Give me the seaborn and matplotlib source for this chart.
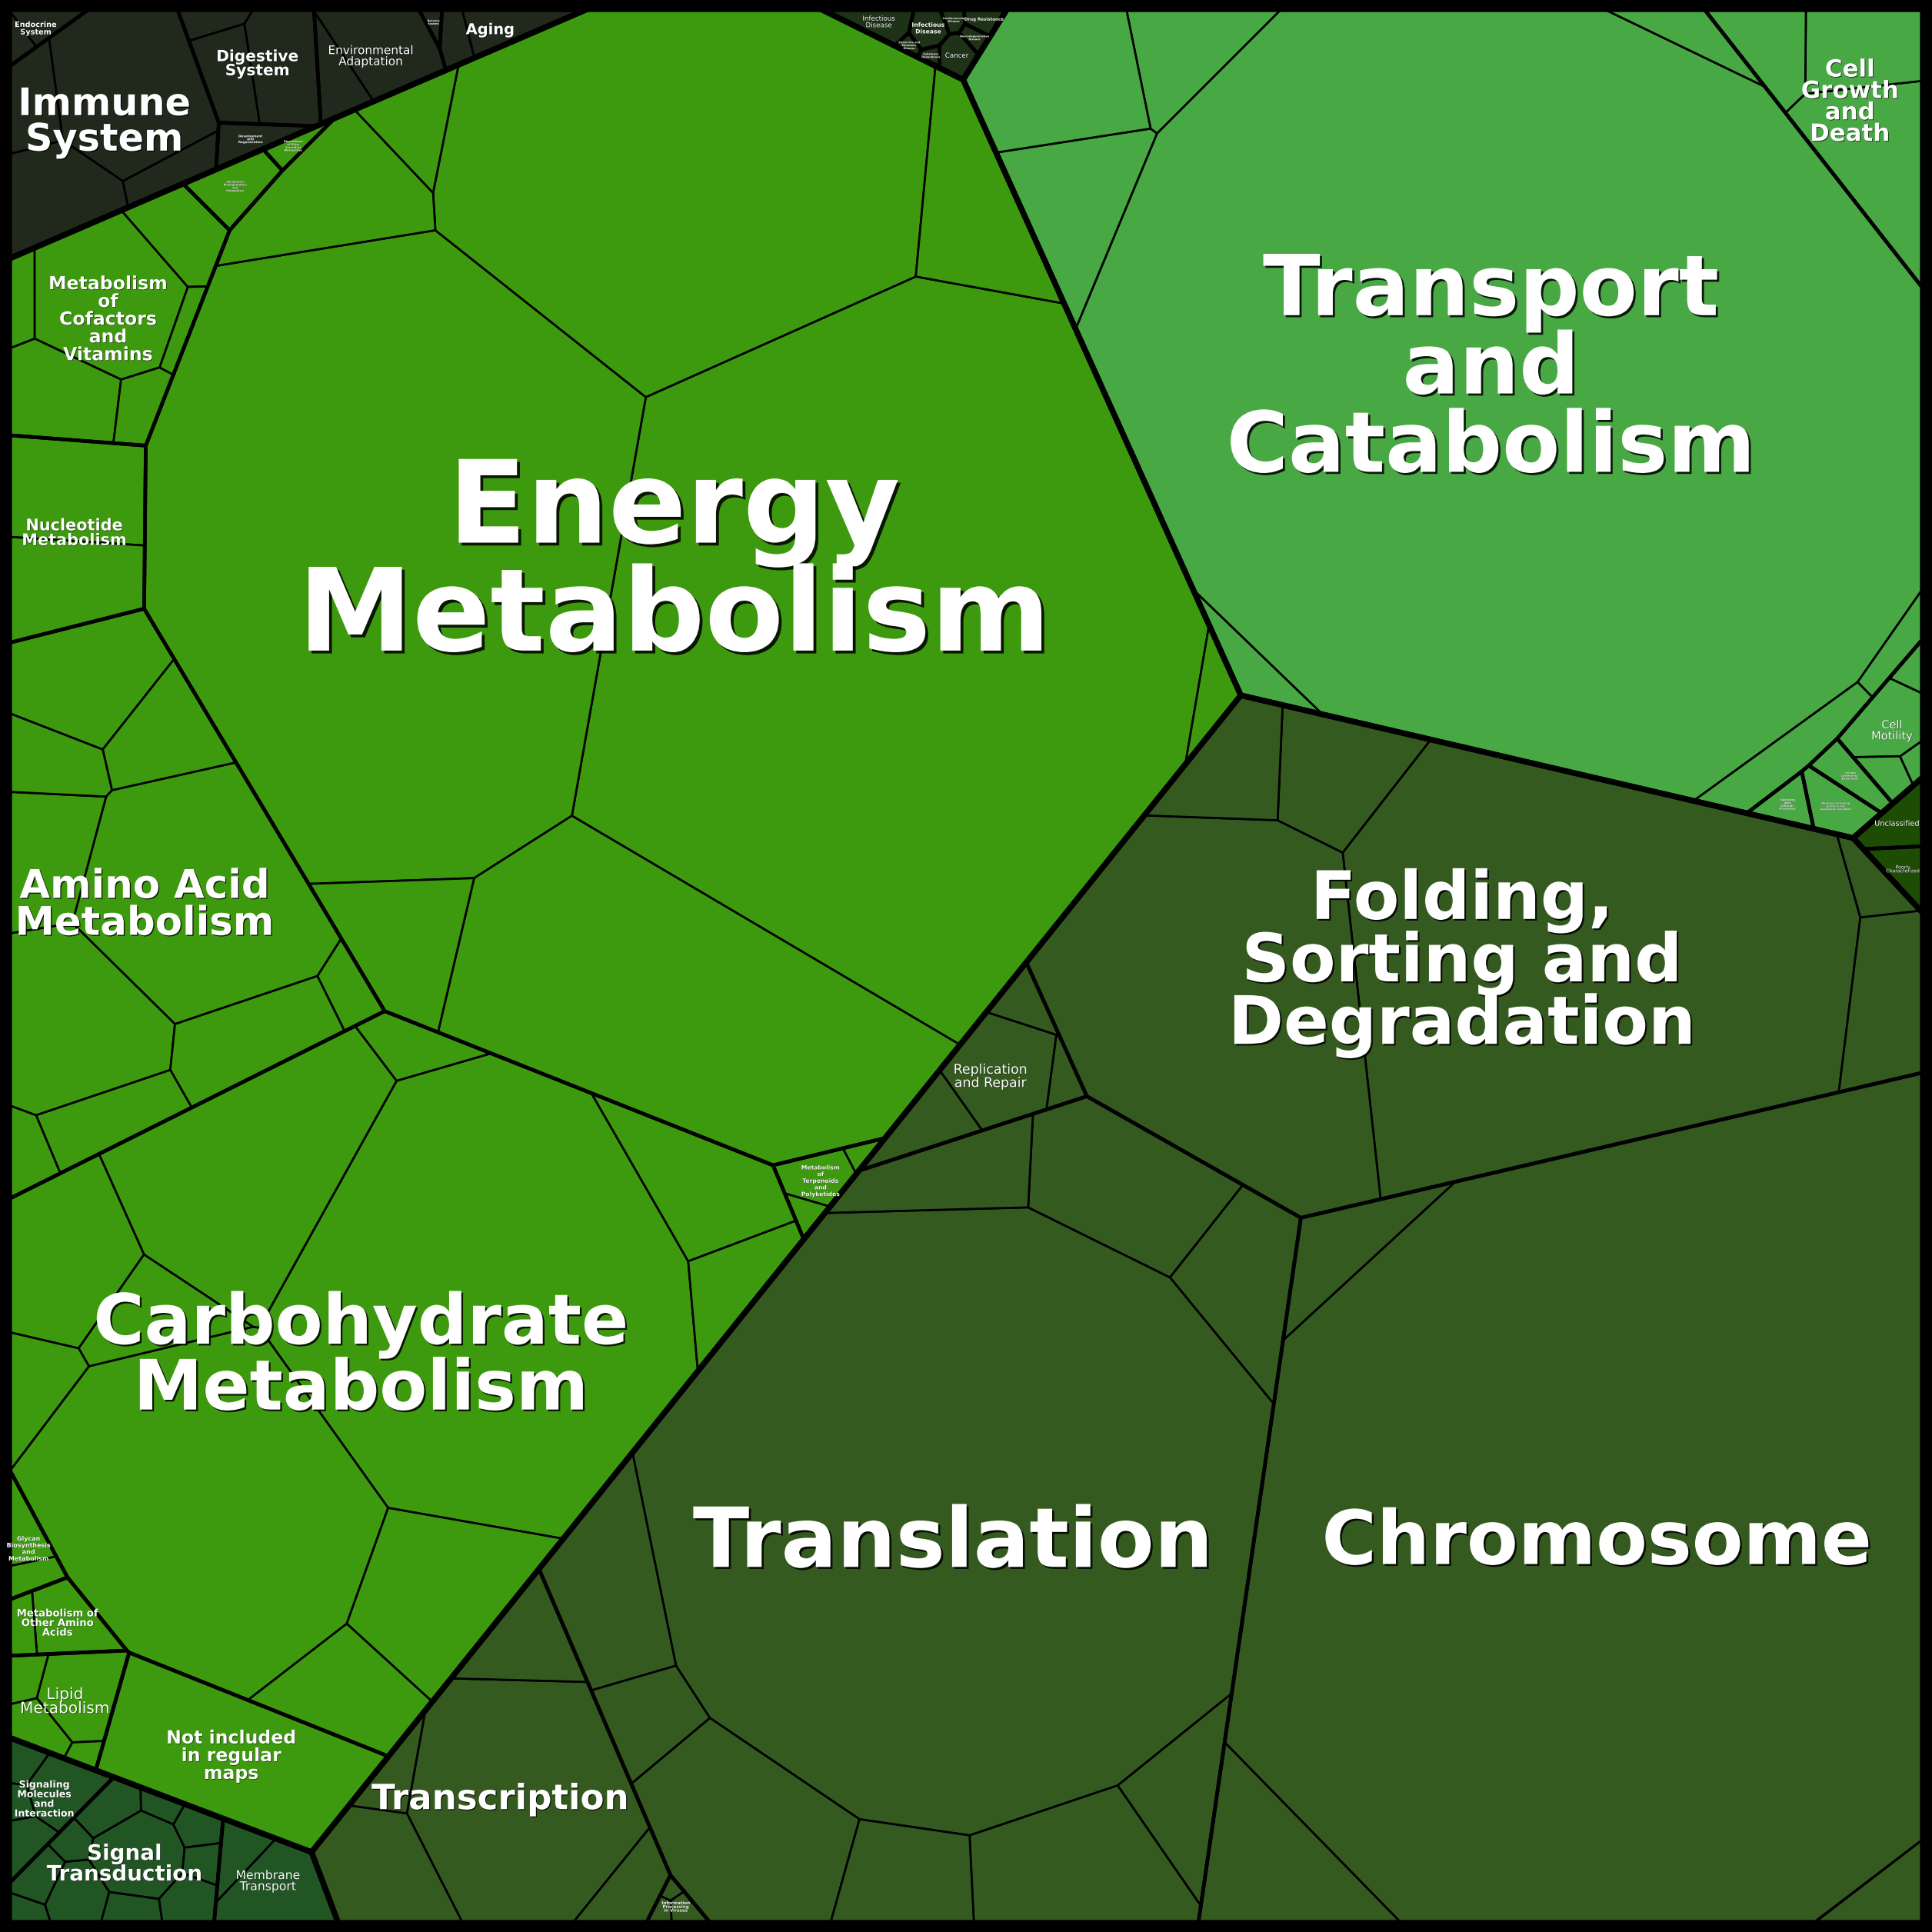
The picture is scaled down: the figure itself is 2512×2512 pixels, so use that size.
import numpy as np
import matplotlib
matplotlib.use("Agg")
import matplotlib.pyplot as plt
import matplotlib.patheffects as pe
from matplotlib.patches import Polygon
from matplotlib.path import Path
import seaborn as sns

# top level groups
groups = ["Metabolism", "Genetic Information Processing", "Cellular Processes",
          "Environmental Information Processing", "Organismal Systems",
          "Human Diseases", "Unclassified"]
group_colors = ["#3d9a0e", "#355a20", "#48a844", "#215624", "#20291c", "#1d3216", "#1d4c04"]

# level 2 categories (label text), their group and the sizes of the pathways inside
cat_labels = [
    "Energy\nMetabolism", "Carbohydrate\nMetabolism", "Amino Acid\nMetabolism",
    "Metabolism\nof\nCofactors\nand\nVitamins", "Nucleotide\nMetabolism",
    "Not included\nin regular\nmaps", "Lipid\nMetabolism", "Metabolism of\nOther Amino\nAcids",
    "Glycan\nBiosynthesis\nand\nMetabolism", "Metabolism\nof\nTerpenoids\nand\nPolyketides",
    "Xenobiotics\nBiodegradation\nand\nMetabolism", "Biosynthesis\nof Other\nSecondary\nMetabolites",
    "Translation", "Chromosome", "Folding,\nSorting and\nDegradation", "Transcription",
    "Replication\nand Repair", "Information\nProcessing\nin Viruses",
    "Transport\nand\nCatabolism", "Cell\nGrowth\nand\nDeath", "Cell\nMotility",
    "Cellular\nCommunity -\nEukaryotes", "Domain-containing\nproteins not\nelsewhere classified",
    "Signaling\nand\nCellular\nProcesses",
    "Signal\nTransduction", "Membrane\nTransport", "Signaling\nMolecules\nand\nInteraction",
    "Immune\nSystem", "Digestive\nSystem", "Environmental\nAdaptation", "Aging",
    "Endocrine\nSystem", "Development\nand\nRegeneration", "Nervous\nSystem",
    "Infectious\nDisease", "Infectious\nDisease", "Cancer", "Drug Resistance",
    "Cardiovascular\nDisease", "Neurodegenerative\nDisease", "Endocrine and\nMetabolic\nDisease",
    "Substance\nDependence",
    "Unclassified", "Poorly\nCharacterized",
]
cat_group = [0] * 12 + [1] * 6 + [2] * 6 + [3] * 3 + [4] * 7 + [5] * 8 + [6] * 2
cat_parts = [
    [220, 164, 96, 66, 12, 12, 10, 4, 2], [95, 60, 30, 15, 12, 10, 8, 6, 5, 4, 3],
    [30, 15, 10, 8, 7, 6, 5, 4, 2, 2], [12, 6, 4, 2, 1.5, 1], [9, 7.5], [20],
    [4, 1.5, 1, 0.5], [3, 1], [1.5, 1], [2, 0.6, 0.4], [2.5], [0.7],
    [200, 20, 15, 15, 12, 10, 8, 8, 7, 5], [320, 12, 6, 3], [115, 65, 9, 8, 7, 2],
    [30, 8, 5, 3, 2], [6, 3, 1.5, 1], [0.5, 0.3, 0.2],
    [340, 12, 8, 5, 4, 3, 3, 2, 2], [10, 6, 4], [3, 1, 0.6, 0.4], [1.5], [2], [1.2],
    [4, 2, 1.5, 1.5, 1.2, 1, 1, 0.8, 0.8, 0.6, 0.6], [4.5, 1.5], [2.5, 1.2, 0.8, 0.5],
    [14, 6, 3, 2], [5, 3, 1], [5, 2], [2, 1], [1, 0.5], [1.5], [0.3],
    [1.2], [0.8], [0.8], [0.5], [0.3], [0.3], [0.2], [0.2],
    [1.8], [1.3],
]

# starting points for the layout, pixel position in a 1568 px view
group_xy = [(426, 675), (1026, 1157), (1222, 316), (113, 1501), (167, 75), (750, 22), (1539, 680)]
seed_xy = [
    (560, 460), (310, 1090), (125, 720), (72, 270), (58, 455), (182, 1410), (48, 1372),
    (45, 1305), (22, 1245), (676, 938), (200, 142), (222, 122),
    (874, 1259), (1321, 1324), (1180, 720), (378, 1472), (760, 910), (528, 1548),
    (1200, 320), (1500, 85), (1540, 612), (1505, 642), (1490, 665), (1466, 670),
    (100, 1512), (215, 1522), (32, 1445),
    (85, 100), (222, 50), (305, 45), (385, 22), (26, 18), (220, 108), (352, 20),
    (723, 13), (755, 20), (780, 42), (806, 10), (776, 12), (798, 26), (740, 31), (760, 42),
    (1538, 662), (1540, 706),
]

# label font size (pt) and weight
label_pt = [43, 26, 14.8, 6.8, 6, 6.8, 5.8, 3.8, 2.3, 2.2, 1.0, 0.8,
            31, 28, 25, 13, 5, 1.6,
            31.5, 8.9, 4.2, 1.0, 1.0, 1.1,
            8, 4.5, 3.6,
            14.2, 5.8, 4.4, 5.6, 2.8, 1.2, 0.8,
            2.5, 2.2, 2.5, 1.6, 0.8, 0.8, 0.7, 0.7,
            2.8, 1.8]
label_bold = [1, 1, 1, 1, 1, 1, 0, 1, 1, 1, 1, 1,
              1, 1, 1, 1, 0, 1,
              1, 1, 0, 1, 1, 1,
              1, 0, 1,
              1, 1, 0, 1, 1, 1, 1,
              0, 1, 0, 1, 1, 1, 1, 1,
              0, 0]


# ---- weighted voronoi (power diagram) treemap ----
def clip(V, L, a, b, lab):
    out_v, out_l = [], []
    n = len(V)
    f = [a[0] * v[0] + a[1] * v[1] - b for v in V]
    for i in range(n):
        j = (i + 1) % n
        fi, fj = f[i], f[j]
        if fi <= 0:
            out_v.append(V[i]); out_l.append(L[i])
            if fj > 0:
                t = fi / (fi - fj)
                out_v.append((V[i][0] + t * (V[j][0] - V[i][0]), V[i][1] + t * (V[j][1] - V[i][1])))
                out_l.append(lab)
        elif fj <= 0:
            t = fi / (fi - fj)
            out_v.append((V[i][0] + t * (V[j][0] - V[i][0]), V[i][1] + t * (V[j][1] - V[i][1])))
            out_l.append(L[i])
    return out_v, out_l


def power_cells(P, W, bound):
    out = []
    n = len(P)
    for i in range(n):
        V = list(bound); L = [-1] * len(V)
        pi = P[i]
        si = pi[0] ** 2 + pi[1] ** 2 - W[i]
        for j in range(n):
            if j == i:
                continue
            pj = P[j]
            a = (2 * (pj[0] - pi[0]), 2 * (pj[1] - pi[1]))
            b = pj[0] ** 2 + pj[1] ** 2 - W[j] - si
            V, L = clip(V, L, a, b, j)
            if not V:
                break
        out.append((V, L))
    return out


def area_centroid(V):
    if len(V) < 3:
        return 0.0, (np.mean(V, axis=0) if len(V) else np.zeros(2))
    V = np.asarray(V)
    x, y = V[:, 0], V[:, 1]
    x1, y1 = np.roll(x, -1), np.roll(y, -1)
    cr = x * y1 - x1 * y
    A = cr.sum() / 2
    if abs(A) < 1e-14:
        return 0.0, V.mean(axis=0)
    return abs(A), np.array([((x + x1) * cr).sum() / (6 * A), ((y + y1) * cr).sum() / (6 * A)])


def pull_inside(p, bound):
    _, c = area_centroid(bound)
    path = Path(np.asarray(bound))
    q = np.array(p, float)
    for _ in range(80):
        if path.contains_point(q, radius=-1e-9):
            return q
        q = c + 0.85 * (q - c)
    return c


def power_layout(bound, seeds, targets, iters=150, move=True):
    n = len(seeds)
    if n == 1:
        return [list(bound)]
    P = np.array([pull_inside(s, bound) for s in seeds])
    for i in range(n):
        for j in range(i):
            if np.allclose(P[i], P[j]):
                P[i] += 1e-4 * (i + 1)
    W = np.zeros(n)
    total, _ = area_centroid(bound)
    T = np.asarray(targets, float)
    T = T / T.sum() * total
    for it in range(iters):
        cells = power_cells(P, W, bound)
        newW = W.copy()
        for i, (V, L) in enumerate(cells):
            A, c = area_centroid(V)
            if A <= 1e-12:
                d2 = ((P - P[i]) ** 2).sum(1)
                newW[i] = max(W[j] - d2[j] for j in range(n) if j != i) + 0.3 * T[i]
                continue
            D = 0.0
            m = len(V)
            for k in range(m):
                j = L[k]
                if j >= 0:
                    seg = np.hypot(V[(k + 1) % m][0] - V[k][0], V[(k + 1) % m][1] - V[k][1])
                    D += seg / (2 * np.hypot(*(P[j] - P[i])))
            newW[i] = W[i] + 0.45 * (T[i] - A) / max(D, 1e-9)
            if move and it < 0.7 * iters:
                P[i] = P[i] + 0.5 * (c - P[i])
        W = newW
    return [V for V, L in power_cells(P, W, bound)]


def sunflower(bound, m):
    A, c = area_centroid(bound)
    R = np.sqrt(A / np.pi) * 0.7
    return [c + R * np.sqrt((k + 0.5) / m) * np.array([np.cos(k * 2.399963), np.sin(k * 2.399963)])
            for k in range(m)]


# ---- build the hierarchy ----
to_unit = lambda p: ((p[0] - 8) / 1552.0, (p[1] - 8) / 1552.0)
seeds = [to_unit(p) for p in seed_xy]
cat_size = [sum(p) for p in cat_parts]
square = [(0.0, 0.0), (1.0, 0.0), (1.0, 1.0), (0.0, 1.0)]

grp_size = [sum(cat_size[i] for i in range(len(cat_labels)) if cat_group[i] == g)
            for g in range(len(groups))]
grp_cells = power_layout(square, [to_unit(p) for p in group_xy], grp_size, iters=220, move=False)

cat_cells = [None] * len(cat_labels)
for g in range(len(groups)):
    idx = [i for i in range(len(cat_labels)) if cat_group[i] == g]
    cells = power_layout(grp_cells[g], [seeds[i] for i in idx], [cat_size[i] for i in idx],
                         iters=180, move=False)
    for i, c in zip(idx, cells):
        cat_cells[i] = c

leaf_cells = []
for i, parts in enumerate(cat_parts):
    if len(parts) == 1:
        leaf_cells.append((cat_group[i], cat_cells[i]))
        continue
    cells = power_layout(cat_cells[i], sunflower(cat_cells[i], len(parts)), parts, iters=90)
    for c in cells:
        leaf_cells.append((cat_group[i], c))

# ---- draw ----
sns.set_style("white")
plt.rcParams['font.family'] = ['DejaVu Sans']
palette = sns.color_palette(group_colors)

fig = plt.figure(figsize=(2512 / 250, 2512 / 250), dpi=250, facecolor="black")
b = 12 / 2512
ax = fig.add_axes([b, b, 1 - 2 * b, 1 - 2 * b])
ax.set_facecolor("black")

for g, V in leaf_cells:
    if len(V) >= 3:
        ax.add_patch(Polygon(V, closed=True, fc=palette[g], ec="black", lw=0.78,
                             joinstyle="round", zorder=1))
for V in cat_cells:
    if len(V) >= 3:
        ax.add_patch(Polygon(V, closed=True, fill=False, ec="black", lw=1.35,
                             joinstyle="round", zorder=2))
for V in grp_cells:
    if len(V) >= 3:
        ax.add_patch(Polygon(V, closed=True, fill=False, ec="black", lw=2.1,
                             joinstyle="round", zorder=3, clip_on=False))

for i, V in enumerate(cat_cells):
    if len(V) < 3:
        continue
    _, c = area_centroid(V)
    fs = label_pt[i]
    ax.text(c[0], c[1], cat_labels[i], ha="center", va="center", fontsize=fs,
            fontweight="bold" if label_bold[i] else "normal", color="white",
            linespacing=0.95, zorder=5,
            path_effects=[pe.withSimplePatchShadow(offset=(0.025 * fs, -0.025 * fs),
                                                   shadow_rgbFace="black", alpha=0.85)])

ax.set_xlim(0, 1)
ax.set_ylim(1, 0)
ax.axis("off")
fig.savefig("out.png", dpi=250, facecolor="black")
